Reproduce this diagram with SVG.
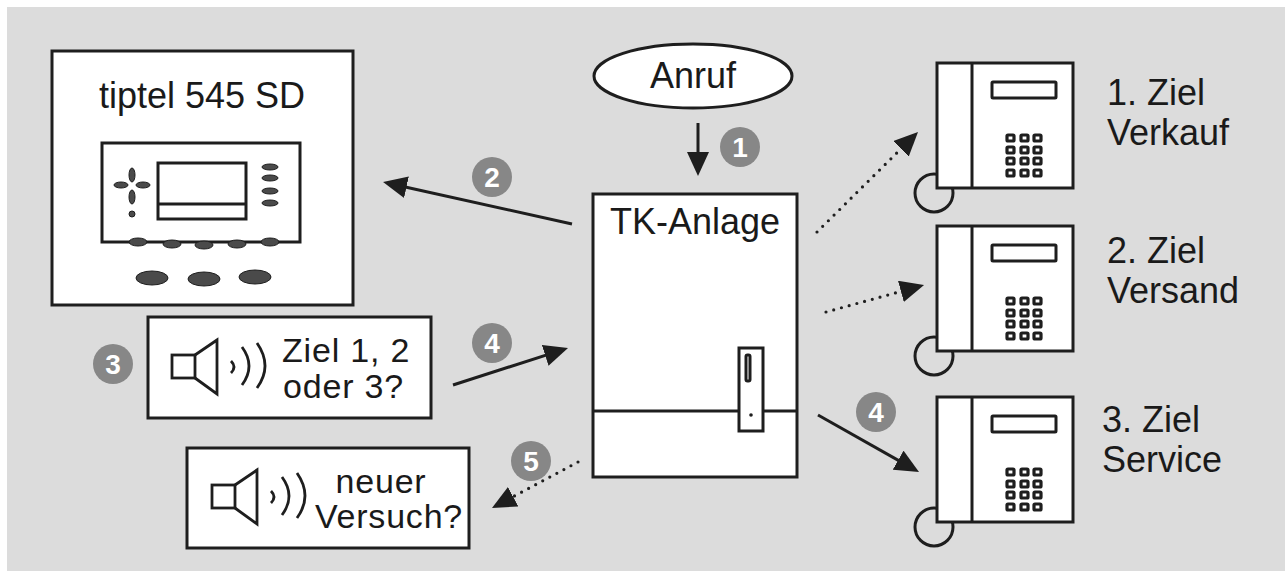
<svg xmlns="http://www.w3.org/2000/svg" xmlns:xlink="http://www.w3.org/1999/xlink" width="1285" height="571" viewBox="0 0 1285 571">
  <style>
    .box { fill: #ffffff; stroke: #1e1e1e; stroke-width: 3; }
    .ln { fill: none; stroke: #1e1e1e; stroke-width: 3; }
    .thin { fill: none; stroke: #1e1e1e; stroke-width: 2.8; }
    .txt { font-family: "Liberation Sans", Arial, sans-serif; font-size: 36px; fill: #1a1a1a; }
    .say { font-family: "Liberation Sans", Arial, sans-serif; font-size: 34px; letter-spacing: 0.8px; fill: #1a1a1a; }
    .badge circle { fill: #878787; }
    .badge text { font-family: "Liberation Sans", Arial, sans-serif; font-size: 28px; font-weight: bold; fill: #ffffff; text-anchor: middle; }
    .key { fill: #ffffff; stroke: #1e1e1e; stroke-width: 3.2; }
    .btn { fill: #4a4a4a; stroke: #1e1e1e; stroke-width: 1; }
    .solid { fill: none; stroke: #1e1e1e; stroke-width: 3; }
    .dotted { fill: none; stroke: #1e1e1e; stroke-width: 3.2; stroke-dasharray: 0 8; stroke-linecap: round; }
  </style>
  <defs>
    <marker id="head" markerUnits="userSpaceOnUse" markerWidth="24" markerHeight="22" refX="14" refY="11" orient="auto">
      <path d="M0,0 L24,11 L0,22 z" fill="#1e1e1e"/>
    </marker>
    <!-- loudspeaker with sound waves -->
    <g id="speaker">
      <rect x="172" y="355" width="23" height="23" class="thin"/>
      <path d="M195,355 L217,340 L217,394 L195,378" class="thin"/>
      <path d="M231,361 Q237,367 231,373" class="thin"/>
      <path d="M242,347 Q256,366 242,385" class="thin"/>
      <path d="M257,343 Q273,366 257,388" class="thin"/>
    </g>
    <!-- desk telephone -->
    <g id="phone">
      <circle cx="-3" cy="130" r="19" class="ln"/>
      <rect x="0" y="0" width="136" height="125" class="box"/>
      <line x1="35" y1="0" x2="35" y2="125" class="ln"/>
      <rect x="55" y="19" width="64" height="16" rx="1" class="box"/>
      <g class="key">
        <rect x="70" y="72" width="7" height="6" rx="1"/><rect x="84" y="72" width="7" height="6" rx="1"/><rect x="97" y="72" width="7" height="6" rx="1"/>
        <rect x="70" y="84" width="7" height="6" rx="1"/><rect x="84" y="84" width="7" height="6" rx="1"/><rect x="97" y="84" width="7" height="6" rx="1"/>
        <rect x="70" y="95" width="7" height="6" rx="1"/><rect x="84" y="95" width="7" height="6" rx="1"/><rect x="97" y="95" width="7" height="6" rx="1"/>
        <rect x="70" y="107" width="7" height="6" rx="1"/><rect x="84" y="107" width="7" height="6" rx="1"/><rect x="97" y="107" width="7" height="6" rx="1"/>
      </g>
    </g>
  </defs>

  <rect x="0" y="0" width="1285" height="571" fill="#ffffff"/>
  <rect x="7" y="7" width="1278" height="564" fill="#dcdcdc"/>

  <!-- connectors -->
  <g id="connectors">
    <line x1="698" y1="123" x2="698" y2="166" class="solid" marker-end="url(#head)"/>
    <line x1="572" y1="224" x2="392.8" y2="184.2" class="solid" marker-end="url(#head)"/>
    <line x1="453" y1="385" x2="558.5" y2="351.1" class="solid" marker-end="url(#head)"/>
    <line x1="818" y1="415" x2="910.3" y2="467.1" class="solid" marker-end="url(#head)"/>
    <line x1="817" y1="232" x2="910.9" y2="139" class="dotted" marker-end="url(#head)"/>
    <line x1="826" y1="312" x2="914.4" y2="287.7" class="dotted" marker-end="url(#head)"/>
    <line x1="578" y1="462" x2="500.8" y2="503.3" class="dotted" marker-end="url(#head)"/>
  </g>

  <!-- answering machine -->
  <g id="tiptel">
    <rect x="52" y="51" width="301" height="254" class="box"/>
    <text x="202" y="108" class="txt" text-anchor="middle">tiptel 545 SD</text>
    <rect x="102" y="143" width="198" height="99" class="box"/>
    <rect x="158" y="163" width="88" height="56" class="box"/>
    <line x1="158" y1="204" x2="246" y2="204" class="ln"/>
    <g class="btn">
      <ellipse cx="132" cy="175" rx="3" ry="7"/>
      <ellipse cx="132" cy="197" rx="3" ry="7"/>
      <ellipse cx="121" cy="185" rx="7" ry="3"/>
      <ellipse cx="143" cy="185" rx="7" ry="3"/>
      <circle cx="132" cy="214" r="3"/>
      <ellipse cx="270" cy="167" rx="8" ry="3"/>
      <ellipse cx="270" cy="178" rx="8" ry="3"/>
      <ellipse cx="270" cy="191" rx="8" ry="3"/>
      <ellipse cx="270" cy="203" rx="8" ry="3"/>
      <ellipse cx="138" cy="242" rx="9" ry="4"/>
      <ellipse cx="172" cy="244" rx="9" ry="4"/>
      <ellipse cx="204" cy="245" rx="9" ry="4"/>
      <ellipse cx="237" cy="244" rx="9" ry="4"/>
      <ellipse cx="270" cy="242" rx="9" ry="4"/>
      <ellipse cx="152" cy="278" rx="16" ry="7"/>
      <ellipse cx="204" cy="279" rx="16" ry="7"/>
      <ellipse cx="255" cy="277" rx="16" ry="7"/>
    </g>
  </g>

  <!-- incoming call -->
  <g id="anruf">
    <ellipse cx="693" cy="76" rx="99" ry="32" class="box"/>
    <text x="693" y="88" class="txt" text-anchor="middle">Anruf</text>
  </g>

  <!-- PBX -->
  <g id="tk-anlage">
    <rect x="593" y="194" width="204" height="283" class="box"/>
    <text x="695" y="234" class="txt" text-anchor="middle">TK-Anlage</text>
    <line x1="593" y1="411" x2="797" y2="411" class="ln"/>
    <rect x="739" y="348" width="24" height="83" class="box"/>
    <rect x="746" y="355" width="4" height="26" rx="1.5" class="ln"/>
    <circle cx="751" cy="415" r="1.8" fill="#1e1e1e"/>
  </g>

  <!-- announcement: choose target -->
  <g id="ansage-ziel">
    <rect x="148" y="317" width="283" height="101" class="box"/>
    <use xlink:href="#speaker"/>
    <text x="282" y="362" class="say">Ziel 1, 2</text>
    <text x="283" y="398" class="say">oder 3?</text>
  </g>

  <!-- announcement: retry -->
  <g id="ansage-neu">
    <rect x="187" y="448" width="282" height="100" class="box"/>
    <use xlink:href="#speaker" transform="translate(40,130)"/>
    <text x="381" y="493" class="say" text-anchor="middle">neuer</text>
    <text x="389" y="528" class="say" text-anchor="middle">Versuch?</text>
  </g>

  <!-- target telephones -->
  <g id="ziel1">
    <use xlink:href="#phone" transform="translate(937,63)"/>
    <text x="1107" y="105" class="txt">1. Ziel</text>
    <text x="1107" y="145" class="txt">Verkauf</text>
  </g>
  <g id="ziel2">
    <use xlink:href="#phone" transform="translate(937,226)"/>
    <text x="1107" y="263" class="txt">2. Ziel</text>
    <text x="1107" y="303" class="txt">Versand</text>
  </g>
  <g id="ziel3">
    <use xlink:href="#phone" transform="translate(937,397)"/>
    <text x="1102" y="432" class="txt">3. Ziel</text>
    <text x="1102" y="472" class="txt">Service</text>
  </g>

  <!-- step numbers -->
  <g id="badges" class="badge">
    <circle cx="740" cy="147" r="20"/><text x="740" y="157">1</text>
    <circle cx="492" cy="177" r="20"/><text x="492" y="187">2</text>
    <circle cx="113" cy="364" r="20"/><text x="113" y="374">3</text>
    <circle cx="492" cy="343" r="20"/><text x="492" y="353">4</text>
    <circle cx="876" cy="412" r="20"/><text x="876" y="422">4</text>
    <circle cx="531" cy="461" r="20"/><text x="531" y="471">5</text>
  </g>
</svg>
